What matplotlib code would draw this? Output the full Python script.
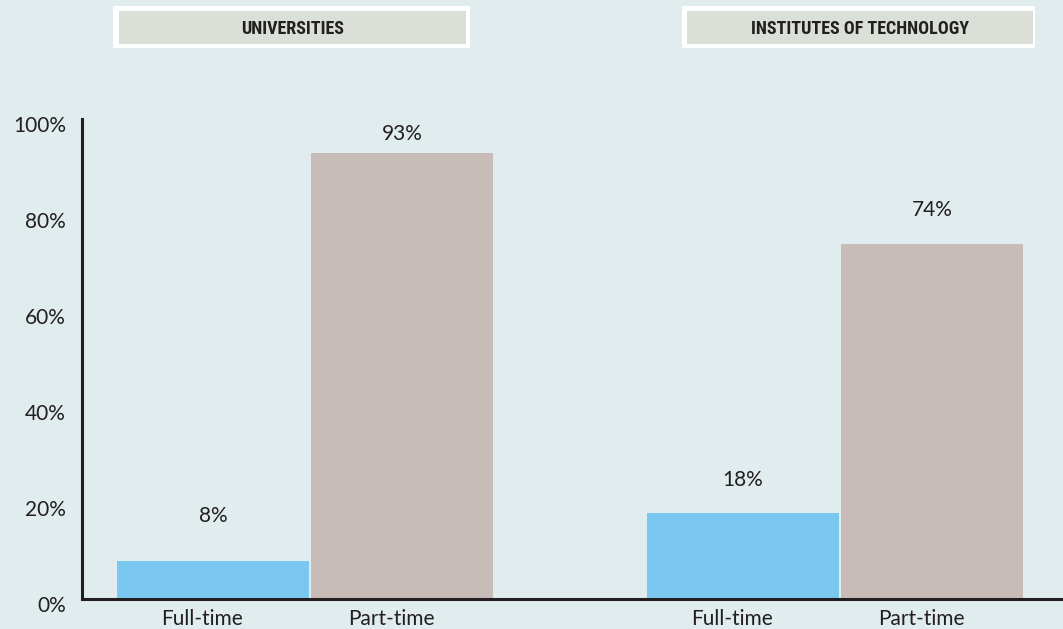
import matplotlib
matplotlib.use("Agg")
import matplotlib.pyplot as plt
from matplotlib.patches import Rectangle
import matplotlib.transforms as mtransforms
from matplotlib import font_manager

# ---- data ----
groups = ["UNIVERSITIES", "INSTITUTES OF TECHNOLOGY"]
categories = ["Full-time", "Part-time", "Full-time", "Part-time"]
values = [8, 93, 18, 74]
value_labels = ["8%", "93%", "18%", "74%"]
yticks = [0, 20, 40, 60, 80, 100]
ytick_labels = ["0%", "20%", "40%", "60%", "80%", "100%"]

# ---- layout / style ----
W, H = 1063, 629
bg = "#e0ecee"
colors = ["#7ac8ef", "#c7bcb7", "#7ac8ef", "#c7bcb7"]
positions = [0.0, 1.0, 2.804, 3.804]
widths = [1.02, 0.958, 1.02, 0.958]
label_offsets_px = [45, 19, 33, 34]
txt = "#231f20"
font = "Lato"

# pick a condensed face for the header if one is installed
head_font, head_size, head_stretch = "DejaVu Sans", 11.5, "normal"
cands = [(f.name, f.stretch, f.weight) for f in font_manager.fontManager.ttflist]
for name, size in [("Roboto Condensed", 13), ("Open Sans Condensed", 13),
                   ("Liberation Sans Narrow", 12)]:
    if any(c[0] == name for c in cands):
        head_font, head_size = name, size
        break
else:
    if any(c[0] == "DejaVu Sans" and str(c[1]) in ("condensed", "semi-condensed", "87.5", "75")
           for c in cands):
        head_stretch, head_size = "condensed", 12

fig = plt.figure(figsize=(W / 100, H / 100), dpi=100, facecolor=bg)
ax = fig.add_axes([82 / W, (H - 599) / H, (W - 82) / W, 480 / H])
ax.set_facecolor(bg)

ax.bar(positions, values, width=widths, color=colors, zorder=2)
ax.set_xlim(-0.693, 4.497)
ax.set_ylim(0, 100)

for spine in ["top", "right"]:
    ax.spines[spine].set_visible(False)
ax.spines["left"].set_linewidth(2.2)
ax.spines["bottom"].set_linewidth(2.2)
ax.spines["left"].set_color(txt)
ax.spines["bottom"].set_color(txt)
ax.spines["bottom"].set_zorder(3)

ax.set_yticks(yticks)
ax.set_yticklabels(ytick_labels, fontsize=15, color=txt, family=font)
ax.tick_params(axis="y", length=0, pad=11.5)
yshift = mtransforms.ScaledTranslation(0, -5 / 100, fig.dpi_scale_trans)
for lab in ax.get_yticklabels():
    lab.set_transform(lab.get_transform() + yshift)

ax.set_xticks(positions)
ax.set_xticklabels(categories, fontsize=15, color=txt, family=font)
ax.tick_params(axis="x", length=0, pad=7.5)
shift = mtransforms.ScaledTranslation(-11 / 100, 0, fig.dpi_scale_trans)
for lab in ax.get_xticklabels():
    lab.set_transform(lab.get_transform() + shift)

for x, v, lab, off in zip(positions, values, value_labels, label_offsets_px):
    ax.annotate(lab, xy=(x, v), xytext=(0, off * 0.72), textcoords="offset points",
                ha="center", va="center", fontsize=15, color=txt, family=font)

# header boxes
headers = [(113, 470, 119, 466), (682, 1035, 687, 1033)]
for (x0, x1, ix0, ix1), g in zip(headers, groups):
    fig.patches.append(Rectangle((x0 / W, (H - 48) / H), (x1 - x0) / W, 42 / H,
                                 transform=fig.transFigure, facecolor="white",
                                 edgecolor="none", zorder=1))
    fig.patches.append(Rectangle((ix0 / W, (H - 44) / H), (ix1 - ix0) / W, 33 / H,
                                 transform=fig.transFigure, facecolor="#dadfd8",
                                 edgecolor="none", zorder=2))
    fig.text((ix0 + ix1) / 2 / W, (H - 29) / H, g, ha="center", va="center",
             fontsize=head_size, fontweight="bold", fontstretch=head_stretch,
             family=head_font, color=txt)

fig.savefig("out.png", dpi=100, facecolor=bg)
